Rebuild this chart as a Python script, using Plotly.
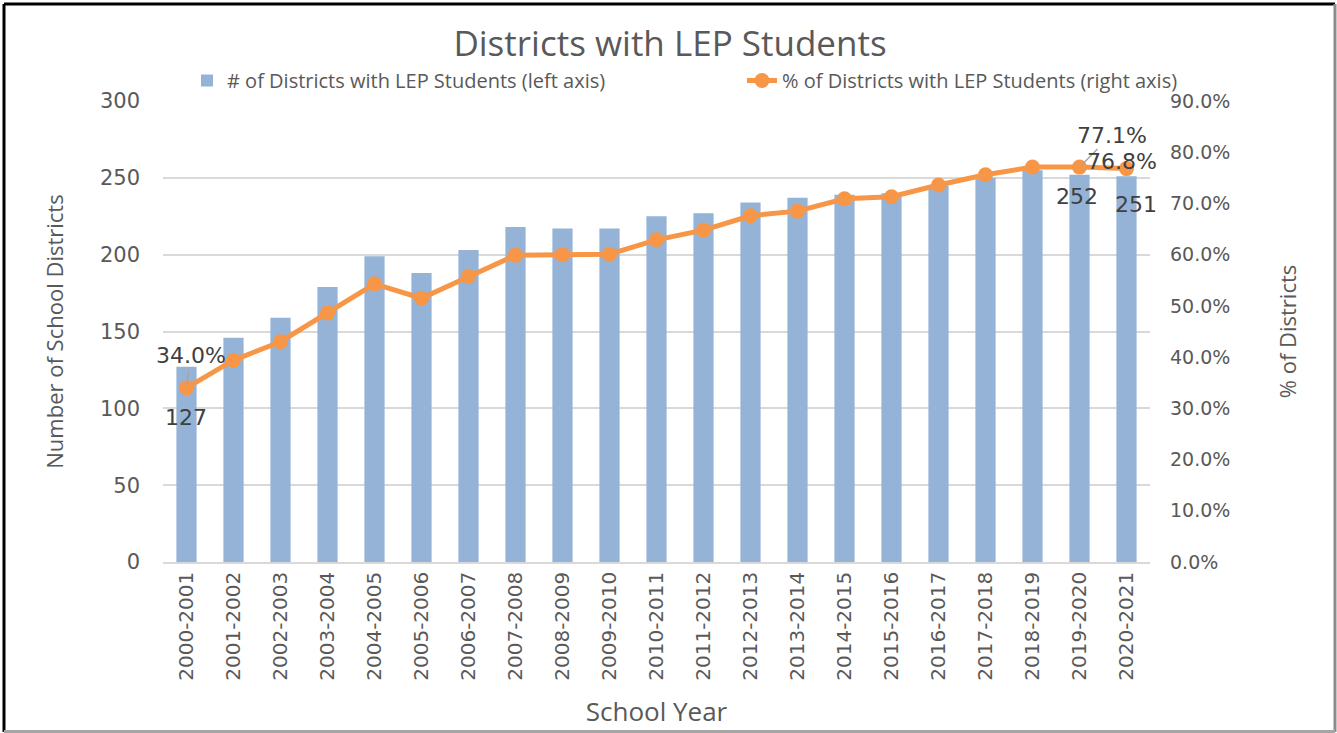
import plotly.graph_objects as go

years = ["2000-2001", "2001-2002", "2002-2003", "2003-2004", "2004-2005", "2005-2006",
         "2006-2007", "2007-2008", "2008-2009", "2009-2010", "2010-2011", "2011-2012",
         "2012-2013", "2013-2014", "2014-2015", "2015-2016", "2016-2017", "2017-2018",
         "2018-2019", "2019-2020", "2020-2021"]
districts = [127, 146, 159, 179, 199, 188, 203, 218, 217, 217, 225, 227,
             234, 237, 239, 240, 245, 250, 255, 252, 251]
pct = [34.0, 39.4, 43.0, 48.6, 54.3, 51.5, 55.8, 59.9, 60.0, 60.1, 62.9, 64.8,
       67.6, 68.5, 70.9, 71.3, 73.6, 75.6, 77.1, 77.1, 76.8]

W, H = 1337, 733
ML, MR, MT, MB = 163, 187, 101, 171
PW, PH = W - ML - MR, H - MT - MB

TXT = "#595959"
BAR = "#95B3D7"
LINE = "#F79646"
GRID = "#D9D9D9"
TICKF = dict(family="DejaVu Sans", size=19, color=TXT)
TICKL = dict(family="DejaVu Sans", size=21, color=TXT)
TICKX = dict(family="DejaVu Sans", size=20, color=TXT)
LABF = dict(family="DejaVu Sans", size=22, color="#404040")


def px_x(px):
    return (px - ML) / PW


def px_y(py):
    return 1 - (py - MT) / PH


fig = go.Figure()
fig.add_trace(go.Bar(x=years, y=districts, name="# of Districts with LEP Students (left axis)",
                     marker=dict(color=BAR, line=dict(width=0)), yaxis="y", legend="legend"))
fig.add_trace(go.Scatter(x=years, y=pct, name="% of Districts with LEP Students (right axis)",
                         mode="lines+markers", yaxis="y2", legend="legend2",
                         line=dict(color=LINE, width=5),
                         marker=dict(color=LINE, size=15)))

annotations = []
annotations.append(dict(x=years[0], y=pct[0], xref="x", yref="y2", text=f"{pct[0]:.1f}%",
                        showarrow=True, ax=4, ay=-32, arrowhead=0, arrowwidth=1.5,
                        arrowcolor="#A6A6A6", standoff=3, font=LABF))
annotations.append(dict(x=years[19], y=pct[19], xref="x", yref="y2", text=f"{pct[19]:.1f}%",
                        showarrow=True, ax=32, ay=-32, arrowhead=0, arrowwidth=1.5,
                        arrowcolor="#A6A6A6", standoff=3, font=LABF))
annotations.append(dict(x=years[20], y=pct[20], xref="x", yref="y2", text=f"{pct[20]:.1f}%",
                        showarrow=False, xshift=-5, yshift=7, font=LABF))
annotations.append(dict(x=years[0], y=districts[0], xref="x", yref="y", text=str(districts[0]),
                        showarrow=False, xshift=-1, yshift=-51, font=LABF))
annotations.append(dict(x=years[19], y=districts[19], xref="x", yref="y", text=str(districts[19]),
                        showarrow=False, xshift=-3, yshift=-22, font=LABF))
annotations.append(dict(x=years[20], y=districts[20], xref="x", yref="y", text=str(districts[20]),
                        showarrow=False, xshift=9, yshift=-28, font=LABF))

LEGF = dict(family="Open Sans", size=20, color=TXT)

fig.update_layout(
    width=W, height=H,
    margin=dict(l=ML, r=MR, t=MT, b=MB, autoexpand=False),
    paper_bgcolor="white", plot_bgcolor="white",
    title=dict(text="Districts with LEP Students", x=px_x(670), xanchor="center",
               y=1 - 44 / H, yanchor="middle", xref="paper",
               font=dict(family="Open Sans", size=35, color=TXT)),
    font=dict(family="Open Sans", color=TXT),
    bargap=0.57,
    showlegend=True,
    legend=dict(orientation="h", x=px_x(187), y=px_y(61), xanchor="left", yanchor="top",
                font=LEGF, bgcolor="rgba(0,0,0,0)"),
    legend2=dict(orientation="h", x=px_x(742), y=px_y(61), xanchor="left", yanchor="top",
                 font=LEGF, bgcolor="rgba(0,0,0,0)"),
    xaxis=dict(type="category", range=[-0.5, len(years) - 0.5], tickangle=-90, tickfont=TICKX,
               showgrid=False, showline=True, linecolor=GRID, linewidth=1.5, ticks="",
               title=dict(text="School Year", standoff=23,
                          font=dict(family="Open Sans", size=26, color=TXT))),
    yaxis=dict(range=[0, 300], dtick=50, showgrid=True, gridcolor=GRID, gridwidth=1.5,
               zeroline=False, tickfont=TICKL, ticklabelstandoff=22,
               title=dict(text="Number of School Districts", standoff=30,
                          font=dict(family="Open Sans", size=22, color=TXT))),
    yaxis2=dict(range=[0, 90], dtick=10, overlaying="y", side="right", showgrid=False,
                zeroline=False, tickfont=TICKF, tickformat=".1f", ticksuffix="%",
                ticklabelstandoff=19,
                title=dict(text="% of Districts", standoff=51,
                           font=dict(family="Open Sans", size=22, color=TXT))),
    annotations=annotations,
    shapes=[
        dict(type="line", xref="paper", yref="paper", x0=px_x(4), x1=px_x(1335),
             y0=px_y(4), y1=px_y(4), line=dict(color="black", width=3)),
        dict(type="line", xref="paper", yref="paper", x0=px_x(4), x1=px_x(4),
             y0=px_y(4), y1=px_y(732), line=dict(color="black", width=3)),
        dict(type="line", xref="paper", yref="paper", x0=px_x(1335), x1=px_x(1335),
             y0=px_y(4), y1=px_y(732), line=dict(color="#8C8C8C", width=3)),
        dict(type="line", xref="paper", yref="paper", x0=px_x(4), x1=px_x(1335),
             y0=px_y(731.5), y1=px_y(731.5), line=dict(color="#A6A6A6", width=3)),
    ],
)

fig.write_html("out.html", config={"displayModeBar": False},
               post_script="document.body.style.margin='0';document.body.style.overflow='hidden';")
